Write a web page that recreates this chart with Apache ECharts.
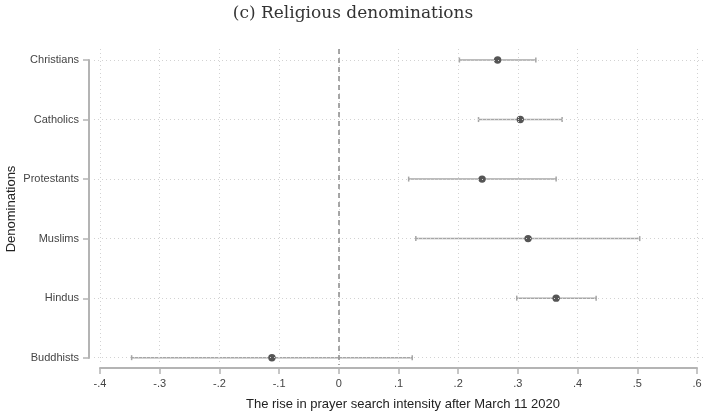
<!DOCTYPE html>
<html>
<head>
<meta charset="utf-8">
<script src="https://cdn.jsdelivr.net/npm/echarts@6/dist/echarts.min.js"></script>
<style>
  html, body { margin: 0; padding: 0; background: #fff; }
  #main { width: 706px; height: 412px; }
</style>
</head>
<body>
<div id="main"></div>
<script>
// denominations, top to bottom
var categories = ["Christians", "Catholics", "Protestants", "Muslims", "Hindus", "Buddhists"];
// point estimates and 95% CI bounds
var estimates = [0.266, 0.304, 0.240, 0.317, 0.364, -0.112];
var lower = [0.202, 0.234, 0.117, 0.129, 0.298, -0.347];
var upper = [0.330, 0.374, 0.364, 0.504, 0.431, 0.123];
var xTicks = [-0.4, -0.3, -0.2, -0.1, 0, 0.1, 0.2, 0.3, 0.4, 0.5, 0.6];

var sans = "Liberation Sans, Arial, sans-serif";

var ciData = [];
for (var i = 0; i < categories.length; i++) {
  ciData.push([lower[i], upper[i], estimates[i], i]);
}

var gridLines = [];
xTicks.forEach(function (t) { gridLines.push({ xAxis: t }); });
categories.forEach(function (c, i) { gridLines.push({ yAxis: i }); });

function tickLabel(v) {
  var n = Math.round(v * 10);
  if (n === 0) return "0";
  return (n < 0 ? "-" : "") + "." + Math.abs(n);
}

var myChart = echarts.init(document.getElementById("main"));
var option = {
  animation: false,
  backgroundColor: "#fff",
  title: {
    text: "(c) Religious denominations",
    left: "center",
    top: 0,
    textStyle: {
      fontFamily: "DejaVu Serif, serif",
      fontWeight: "normal",
      fontSize: 17,
      color: "#333"
    }
  },
  grid: [
    // plotting area
    { left: 94, right: 0, top: 49, bottom: 47 },
    // visible x axis
    { left: 100, right: 9, top: 300, bottom: 43 },
    // visible y axis
    { left: 89, width: 10, top: 60, bottom: 54 }
  ],
  xAxis: [
    { gridIndex: 0, type: "value", min: -0.41, max: 0.615, show: false },
    {
      gridIndex: 1,
      type: "value",
      min: -0.4,
      max: 0.6,
      interval: 0.1,
      name: "The rise in prayer search intensity after March 11 2020",
      nameLocation: "middle",
      nameGap: 30,
      nameTextStyle: { fontFamily: sans, fontSize: 13, color: "#222", padding: [0, 0, 0, 9] },
      axisLine: { lineStyle: { color: "#b4b4b4", width: 2 } },
      axisTick: { length: 6, lineStyle: { color: "#b4b4b4", width: 1.5 } },
      axisLabel: { fontFamily: sans, fontSize: 11, color: "#444", margin: 10, formatter: tickLabel },
      splitLine: { show: false }
    },
    { gridIndex: 2, type: "value", show: false }
  ],
  yAxis: [
    { gridIndex: 0, type: "value", min: -0.185, max: 5.123, inverse: true, show: false },
    { gridIndex: 1, type: "value", show: false },
    {
      gridIndex: 2,
      type: "category",
      data: categories,
      inverse: true,
      boundaryGap: false,
      name: "Denominations",
      nameLocation: "middle",
      nameGap: 71,
      nameTextStyle: { fontFamily: sans, fontSize: 13, color: "#222" },
      axisLine: { lineStyle: { color: "#b4b4b4", width: 2 } },
      axisTick: { length: 6, lineStyle: { color: "#b4b4b4", width: 1.5 } },
      axisLabel: { fontFamily: sans, fontSize: 11, color: "#444", margin: 10 },
      splitLine: { show: false }
    }
  ],
  series: [
    {
      // dotted grid + dashed zero line
      type: "line",
      xAxisIndex: 0,
      yAxisIndex: 0,
      data: [],
      z: 1,
      markLine: {
        silent: true,
        symbol: "none",
        label: { show: false },
        lineStyle: { color: "#d2d2d2", width: 1, type: [1, 3] },
        data: gridLines.concat([
          { xAxis: 0, lineStyle: { color: "#8a8a8a", width: 1.5, type: [5, 4] } }
        ])
      }
    },
    {
      // CI bars with caps, then the point estimate on top
      type: "custom",
      xAxisIndex: 0,
      yAxisIndex: 0,
      z: 3,
      data: ciData,
      renderItem: function (params, api) {
        var y = api.value(3);
        var p1 = api.coord([api.value(0), y]);
        var p2 = api.coord([api.value(1), y]);
        var pt = api.coord([api.value(2), y]);
        var style = { stroke: "#a6a6a6", lineWidth: 1.5 };
        return {
          type: "group",
          children: [
            { type: "line", shape: { x1: p1[0], y1: p1[1], x2: p2[0], y2: p2[1] }, style: style },
            { type: "line", shape: { x1: p1[0], y1: p1[1] - 2.5, x2: p1[0], y2: p1[1] + 2.5 }, style: style },
            { type: "line", shape: { x1: p2[0], y1: p2[1] - 2.5, x2: p2[0], y2: p2[1] + 2.5 }, style: style },
            { type: "circle", shape: { cx: pt[0], cy: pt[1], r: 3.7 }, style: { fill: "#555555" } }
          ]
        };
      }
    }
  ]
};
myChart.setOption(option);
</script>
</body>
</html>
